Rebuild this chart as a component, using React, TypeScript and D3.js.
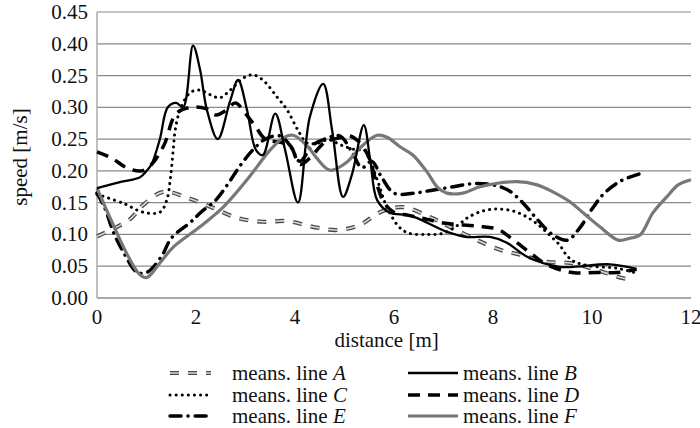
import React from "react";
import * as d3 from "d3";

const xTicks = [0, 2, 4, 6, 8, 10, 12];
const yTickValues = [0, 0.05, 0.1, 0.15, 0.2, 0.25, 0.3, 0.35, 0.4, 0.45];
const yTickLabels = ["0.00", "0.05", "0.10", "0.15", "0.20", "0.25", "0.30", "0.25", "0.40", "0.45"];

const lineA: [number, number][] = [
  [0, 0.097], [0.65, 0.123], [0.93, 0.146], [1.34, 0.167], [1.88, 0.156], [2.34, 0.142],
  [2.83, 0.126], [3.35, 0.12], [3.84, 0.121], [4.36, 0.112], [4.85, 0.107], [5.31, 0.115],
  [5.72, 0.135], [6.18, 0.143], [6.73, 0.127], [7.13, 0.112], [7.68, 0.091], [8.14, 0.076],
  [8.55, 0.068], [9.09, 0.057], [9.56, 0.055], [10.1, 0.044], [10.63, 0.031], [10.8, 0.03],
];
const lineB: [number, number][] = [
  [0, 0.173], [0.5, 0.183], [0.87, 0.19], [1.0, 0.2], [1.1, 0.21], [1.27, 0.25], [1.43, 0.3],
  [1.6, 0.307], [1.74, 0.3], [1.94, 0.397], [2.08, 0.36], [2.22, 0.296], [2.44, 0.25],
  [2.69, 0.31], [2.85, 0.343], [3.03, 0.296], [3.21, 0.233], [3.35, 0.225], [3.6, 0.29],
  [3.8, 0.233], [4.06, 0.15], [4.3, 0.285], [4.57, 0.337], [4.75, 0.264], [4.97, 0.159],
  [5.15, 0.194], [5.39, 0.272], [5.52, 0.217], [5.66, 0.154], [5.92, 0.134], [6.32, 0.13],
  [7.07, 0.104], [7.47, 0.096], [7.94, 0.096], [8.28, 0.087], [8.69, 0.065], [9.35, 0.049],
  [10.36, 0.053], [10.9, 0.046],
];
const lineC: [number, number][] = [
  [0, 0.163], [0.53, 0.149], [0.93, 0.135], [1.27, 0.135], [1.41, 0.154], [1.48, 0.186],
  [1.54, 0.233], [1.58, 0.264], [1.68, 0.296], [1.88, 0.323], [2.08, 0.327], [2.28, 0.32],
  [2.48, 0.315], [2.69, 0.327], [2.95, 0.346], [3.15, 0.351], [3.35, 0.343], [3.64, 0.316],
  [3.84, 0.296], [4.06, 0.264], [4.24, 0.244], [4.48, 0.244], [4.67, 0.249], [4.95, 0.24],
  [5.25, 0.233], [5.4, 0.233], [5.66, 0.186], [5.84, 0.146], [6.1, 0.112], [6.3, 0.102],
  [6.67, 0.1], [7.0, 0.102], [7.3, 0.115], [7.5, 0.127], [7.8, 0.137], [8.1, 0.14],
  [8.4, 0.137], [8.65, 0.129], [8.9, 0.116], [9.13, 0.1], [9.35, 0.083], [9.5, 0.066],
  [9.65, 0.057], [10.0, 0.05], [10.5, 0.047], [10.9, 0.039],
];
const lineD: [number, number][] = [
  [0, 0.23], [0.3, 0.22], [0.6, 0.205], [0.9, 0.2], [1.1, 0.21], [1.35, 0.24], [1.6, 0.29],
  [1.9, 0.3], [2.2, 0.298], [2.4, 0.288], [2.6, 0.295], [2.8, 0.307], [3.0, 0.29], [3.2, 0.27],
  [3.4, 0.25], [3.7, 0.245], [3.9, 0.24], [4.1, 0.21], [4.3, 0.22], [4.6, 0.245], [4.9, 0.252],
  [5.1, 0.255], [5.3, 0.245], [5.5, 0.22], [5.65, 0.18], [5.8, 0.15], [6.0, 0.135], [6.3, 0.13],
  [6.6, 0.125], [7.0, 0.118], [7.4, 0.115], [7.8, 0.112], [8.1, 0.108], [8.4, 0.092],
  [8.8, 0.068], [9.1, 0.052], [9.6, 0.04], [10.1, 0.04], [10.5, 0.04], [10.9, 0.045],
];
const lineE: [number, number][] = [
  [0, 0.165], [0.15, 0.143], [0.35, 0.1], [0.55, 0.07], [0.8, 0.041], [1.0, 0.04], [1.3, 0.065],
  [1.5, 0.094], [1.9, 0.12], [2.1, 0.135], [2.4, 0.154], [2.65, 0.18], [2.9, 0.209],
  [3.15, 0.233], [3.4, 0.25], [3.7, 0.255], [3.9, 0.24], [4.1, 0.215], [4.35, 0.24], [4.6, 0.25],
  [4.9, 0.255], [5.15, 0.23], [5.35, 0.205], [5.55, 0.215], [5.75, 0.19], [6.0, 0.165],
  [6.4, 0.165], [6.8, 0.17], [7.2, 0.175], [7.6, 0.18], [8.0, 0.178], [8.3, 0.17], [8.6, 0.15],
  [8.9, 0.123], [9.2, 0.1], [9.5, 0.091], [9.75, 0.11], [10.0, 0.14], [10.25, 0.165],
  [10.6, 0.185], [10.95, 0.195],
];
const lineF: [number, number][] = [
  [0, 0.173], [0.3, 0.12], [0.6, 0.07], [0.85, 0.038], [1.0, 0.032], [1.27, 0.055],
  [1.54, 0.08], [2.08, 0.112], [2.55, 0.143], [3.03, 0.186], [3.5, 0.233], [3.76, 0.252],
  [3.96, 0.256], [4.24, 0.24], [4.44, 0.22], [4.71, 0.201], [5.05, 0.214], [5.31, 0.236],
  [5.66, 0.256], [5.86, 0.253], [6.12, 0.238], [6.38, 0.225], [6.67, 0.198], [6.87, 0.175],
  [7.07, 0.165], [7.39, 0.165], [7.74, 0.175], [8.48, 0.183], [8.89, 0.178], [9.21, 0.167],
  [9.56, 0.151], [9.82, 0.134], [10.16, 0.112], [10.53, 0.091], [10.77, 0.094], [10.97, 0.099],
  [11.23, 0.134], [11.51, 0.159], [11.74, 0.178], [12.0, 0.186],
];

const W = 700;
const H = 428;
const left = 97;
const right = 691;
const top = 12;
const bottom = 298;

const FAMILY = "Liberation Serif";
const FSIZE = 21;

type Style = {
  key: string;
  label: string;
  data: [number, number][];
  layers: { stroke: string; width: number; dash?: string; cap?: string }[];
};

const styles: Style[] = [
  {
    key: "A", label: "A", data: lineA,
    layers: [
      { stroke: "#4a4a4a", width: 4.2, dash: "9 9", cap: "butt" },
      { stroke: "#d8d8d8", width: 1.6, dash: "9 9", cap: "butt" },
    ],
  },
  { key: "B", label: "B", data: lineB, layers: [{ stroke: "#000", width: 2.3 }] },
  { key: "C", label: "C", data: lineC, layers: [{ stroke: "#000", width: 3, dash: "0.1 6", cap: "round" }] },
  { key: "D", label: "D", data: lineD, layers: [{ stroke: "#000", width: 3.5, dash: "12 8", cap: "butt" }] },
  { key: "E", label: "E", data: lineE, layers: [{ stroke: "#000", width: 3.5, dash: "11 7 0.1 7", cap: "round" }] },
  { key: "F", label: "F", data: lineF, layers: [{ stroke: "#777", width: 3.2 }] },
];

function T(props: any) {
  const { children, style, ...rest } = props;
  return (
    <text
      fontFamily={FAMILY}
      fontSize={FSIZE}
      fill="#111"
      style={{ fontFamily: `"${FAMILY}"`, fontSize: `${FSIZE}px`, ...(style || {}) }}
      {...rest}
    >
      {children}
    </text>
  );
}

export default function App() {
  const x = d3.scaleLinear().domain([0, 12]).range([left, right]);
  const y = d3.scaleLinear().domain([0, 0.45]).range([bottom, top]);
  const line = d3
    .line<[number, number]>()
    .x((d) => x(d[0]))
    .y((d) => y(d[1]))
    .curve(d3.curveCatmullRom.alpha(0.5));

  const drawOrder = ["A", "C", "E", "D", "F", "B"];

  const legendItems = [
    { key: "A", col: 0, row: 0 },
    { key: "B", col: 1, row: 0 },
    { key: "C", col: 0, row: 1 },
    { key: "D", col: 1, row: 1 },
    { key: "E", col: 0, row: 2 },
    { key: "F", col: 1, row: 2 },
  ];
  const colSample = [
    [170, 211],
    [408, 458],
  ];
  const colText = [232, 463];
  const rowY = [373, 395, 416];

  return (
    <svg
      width={W}
      height={H}
      style={{ position: "absolute", left: 0, top: 0, background: "#fff" }}
    >
      {yTickValues.slice(1).map((v) => (
        <line key={v} x1={left} x2={right} y1={y(v)} y2={y(v)} stroke="#8a8a8a" strokeWidth={1.2} />
      ))}
      <line x1={left} x2={left} y1={top} y2={bottom} stroke="#aaa" strokeWidth={1.5} />
      <line x1={left} x2={right} y1={bottom} y2={bottom} stroke="#aaa" strokeWidth={2} />

      {yTickValues.map((v, i) => (
        <T key={v} x={88} y={y(v) + 7}>
          <tspan textAnchor="end">{yTickLabels[i]}</tspan>
        </T>
      ))}
      {xTicks.map((t) => (
        <T key={t} x={x(t)} y={324} textAnchor="middle">
          {t}
        </T>
      ))}
      <T x={x(5.85)} y={347} textAnchor="middle">
        distance [m]
      </T>
      <T transform={`translate(27, ${(top + bottom) / 2 + 2}) rotate(-90)`} textAnchor="middle">
        speed [m/s]
      </T>

      {drawOrder.map((k) => {
        const s = styles.find((st) => st.key === k)!;
        const dStr = line(s.data) || "";
        return (
          <g key={k}>
            {s.layers.map((l, i) => (
              <path
                key={i}
                d={dStr}
                fill="none"
                stroke={l.stroke}
                strokeWidth={l.width}
                strokeDasharray={l.dash}
                strokeLinecap={(l.cap as any) || "butt"}
                strokeLinejoin="round"
              />
            ))}
          </g>
        );
      })}

      {legendItems.map((it) => {
        const s = styles.find((st) => st.key === it.key)!;
        const [x0, x1] = colSample[it.col];
        const yy = rowY[it.row];
        return (
          <g key={it.key}>
            {s.layers.map((l, i) => (
              <line
                key={i}
                x1={x0}
                x2={x1}
                y1={yy}
                y2={yy}
                stroke={l.stroke}
                strokeWidth={l.width}
                strokeDasharray={l.dash}
                strokeLinecap={(l.cap as any) || "butt"}
              />
            ))}
            <T x={colText[it.col]} y={yy + 7}>
              means. line <tspan fontStyle="italic">{s.label}</tspan>
            </T>
          </g>
        );
      })}
    </svg>
  );
}
